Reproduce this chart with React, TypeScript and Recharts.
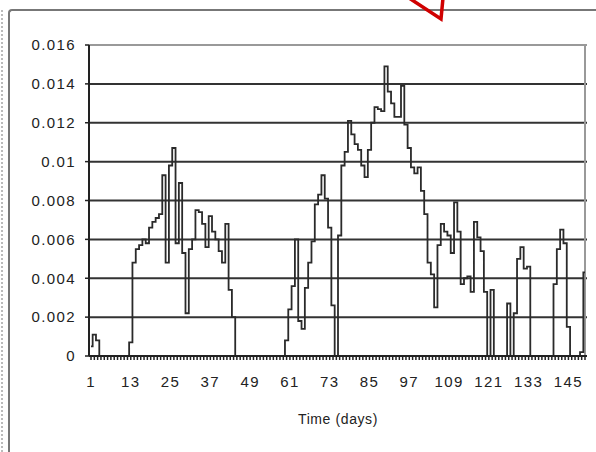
import { LineChart, Line, XAxis, YAxis, CartesianGrid, ReferenceLine } from 'recharts';

// Time axis (days) and the measured series
const days = Array.from({ length: 150 }, (_, i) => i + 1);

const values = [
  0.0005, 0.0011, 0.0008, 0, 0, 0, 0, 0, 0, 0,
  0, 0, 0.0007, 0.0048, 0.0055, 0.0057, 0.006, 0.0058, 0.0066, 0.0069,
  0.0071, 0.0073, 0.0093, 0.0048, 0.0098, 0.0107, 0.0058, 0.0089, 0.0053, 0.0022,
  0.0055, 0.006, 0.0075, 0.0074, 0.0068, 0.0056, 0.0072, 0.0064, 0.006, 0.0054,
  0.0048, 0.0068, 0.0034, 0.002, 0, 0, 0, 0, 0, 0,
  0, 0, 0, 0, 0, 0, 0, 0, 0, 0.0008,
  0.0024, 0.0036, 0.006, 0.0018, 0.0014, 0.0035, 0.0048, 0.0059, 0.0078, 0.0083,
  0.0093, 0.0081, 0.0066, 0.0026, 0, 0.0062, 0.0098, 0.0105, 0.0121, 0.0114,
  0.0109, 0.0106, 0.0098, 0.0092, 0.0106, 0.012, 0.0128, 0.0127, 0.0126, 0.0149,
  0.0136, 0.013, 0.0123, 0.0123, 0.0139, 0.0119, 0.0107, 0.0097, 0.0094, 0.0097,
  0.0085, 0.0073, 0.0048, 0.0042, 0.0025, 0.0057, 0.0068, 0.0064, 0.0062, 0.0053,
  0.0079, 0.0064, 0.0037, 0.004, 0.0041, 0.0033, 0.0069, 0.0061, 0.0054, 0.0033,
  0, 0.0034, 0, 0, 0, 0, 0.0027, 0, 0.0022, 0.005,
  0.0056, 0.0045, 0.0046, 0, 0, 0, 0, 0, 0, 0,
  0.0037, 0.0055, 0.0065, 0.0058, 0.0015, 0, 0, 0, 0.0002, 0.0043,
];

const yTicks = [0, 0.002, 0.004, 0.006, 0.008, 0.01, 0.012, 0.014, 0.016];
const labelEvery = 12;

const data = days.map((d, i) => ({ day: d, value: values[i] }));

const font = { fontFamily: 'Liberation Sans, Arial, sans-serif', fontSize: 15, fill: '#222', letterSpacing: 1.4 };

// only every 12th category gets a label, but every category keeps its tick mark
const DayTick = (props: any) => {
  const { x, y, payload, index } = props;
  if (index % labelEvery !== 0) return <g />;
  return (
    <text x={x} y={y} dy={13} textAnchor="middle" {...font}>
      {payload.value}
    </text>
  );
};

export default function App() {
  return (
    <div style={{ position: 'absolute', left: 0, top: 0, width: 596, height: 452, background: '#fff', overflow: 'hidden' }}>
      {/* outer frame of the figure */}
      <div style={{ position: 'absolute', left: 8, top: 9, width: 600, height: 460, borderTop: '2px solid #777', borderLeft: '2px solid #777', borderTopLeftRadius: 4 }} />
      <div style={{ position: 'absolute', left: 1, top: 10, height: 442, borderLeft: '2px dotted #bbb' }} />
      <svg width={596} height={452} style={{ position: 'absolute', left: 0, top: 0 }}>
        <polyline points="409,-2 441,19 443,-2" fill="none" stroke="#d00000" strokeWidth={3.5} />
      </svg>
      <div style={{ position: 'absolute', left: 0, top: 0 }}>
        <LineChart width={596} height={452} data={data} margin={{ top: 45, right: 9, left: 0, bottom: 56 }}>
          <CartesianGrid horizontal vertical={false} stroke="#333" strokeWidth={2} />
          <XAxis
            dataKey="day"
            interval={0}
            tick={DayTick}
            tickSize={4}
            tickMargin={14}
            padding={{ left: 2, right: 2 }}
            axisLine={{ stroke: '#222', strokeWidth: 2 }}
            tickLine={{ stroke: '#222', strokeWidth: 1.5 }}
            height={40}
            label={{ value: 'Time (days)', position: 'insideBottom', offset: -28, style: { ...font, fontSize: 14, letterSpacing: 0.6 } }}
          />
          <YAxis
            domain={[0, 0.016]}
            ticks={yTicks}
            width={89}
            tickSize={4}
            tickMargin={9}
            tickFormatter={(v: number) => String(Number(v.toFixed(3)))}
            tick={font}
            axisLine={{ stroke: '#222', strokeWidth: 2 }}
            tickLine={{ stroke: '#222', strokeWidth: 1.5 }}
          />
          <ReferenceLine y={0.016} stroke="#999" strokeWidth={2} />
          <ReferenceLine x={150} stroke="#999" strokeWidth={2} />
          <Line
            type="step"
            dataKey="value"
            stroke="#2a2a2a"
            strokeWidth={1.8}
            dot={false}
            isAnimationActive={false}
          />
        </LineChart>
      </div>
    </div>
  );
}
